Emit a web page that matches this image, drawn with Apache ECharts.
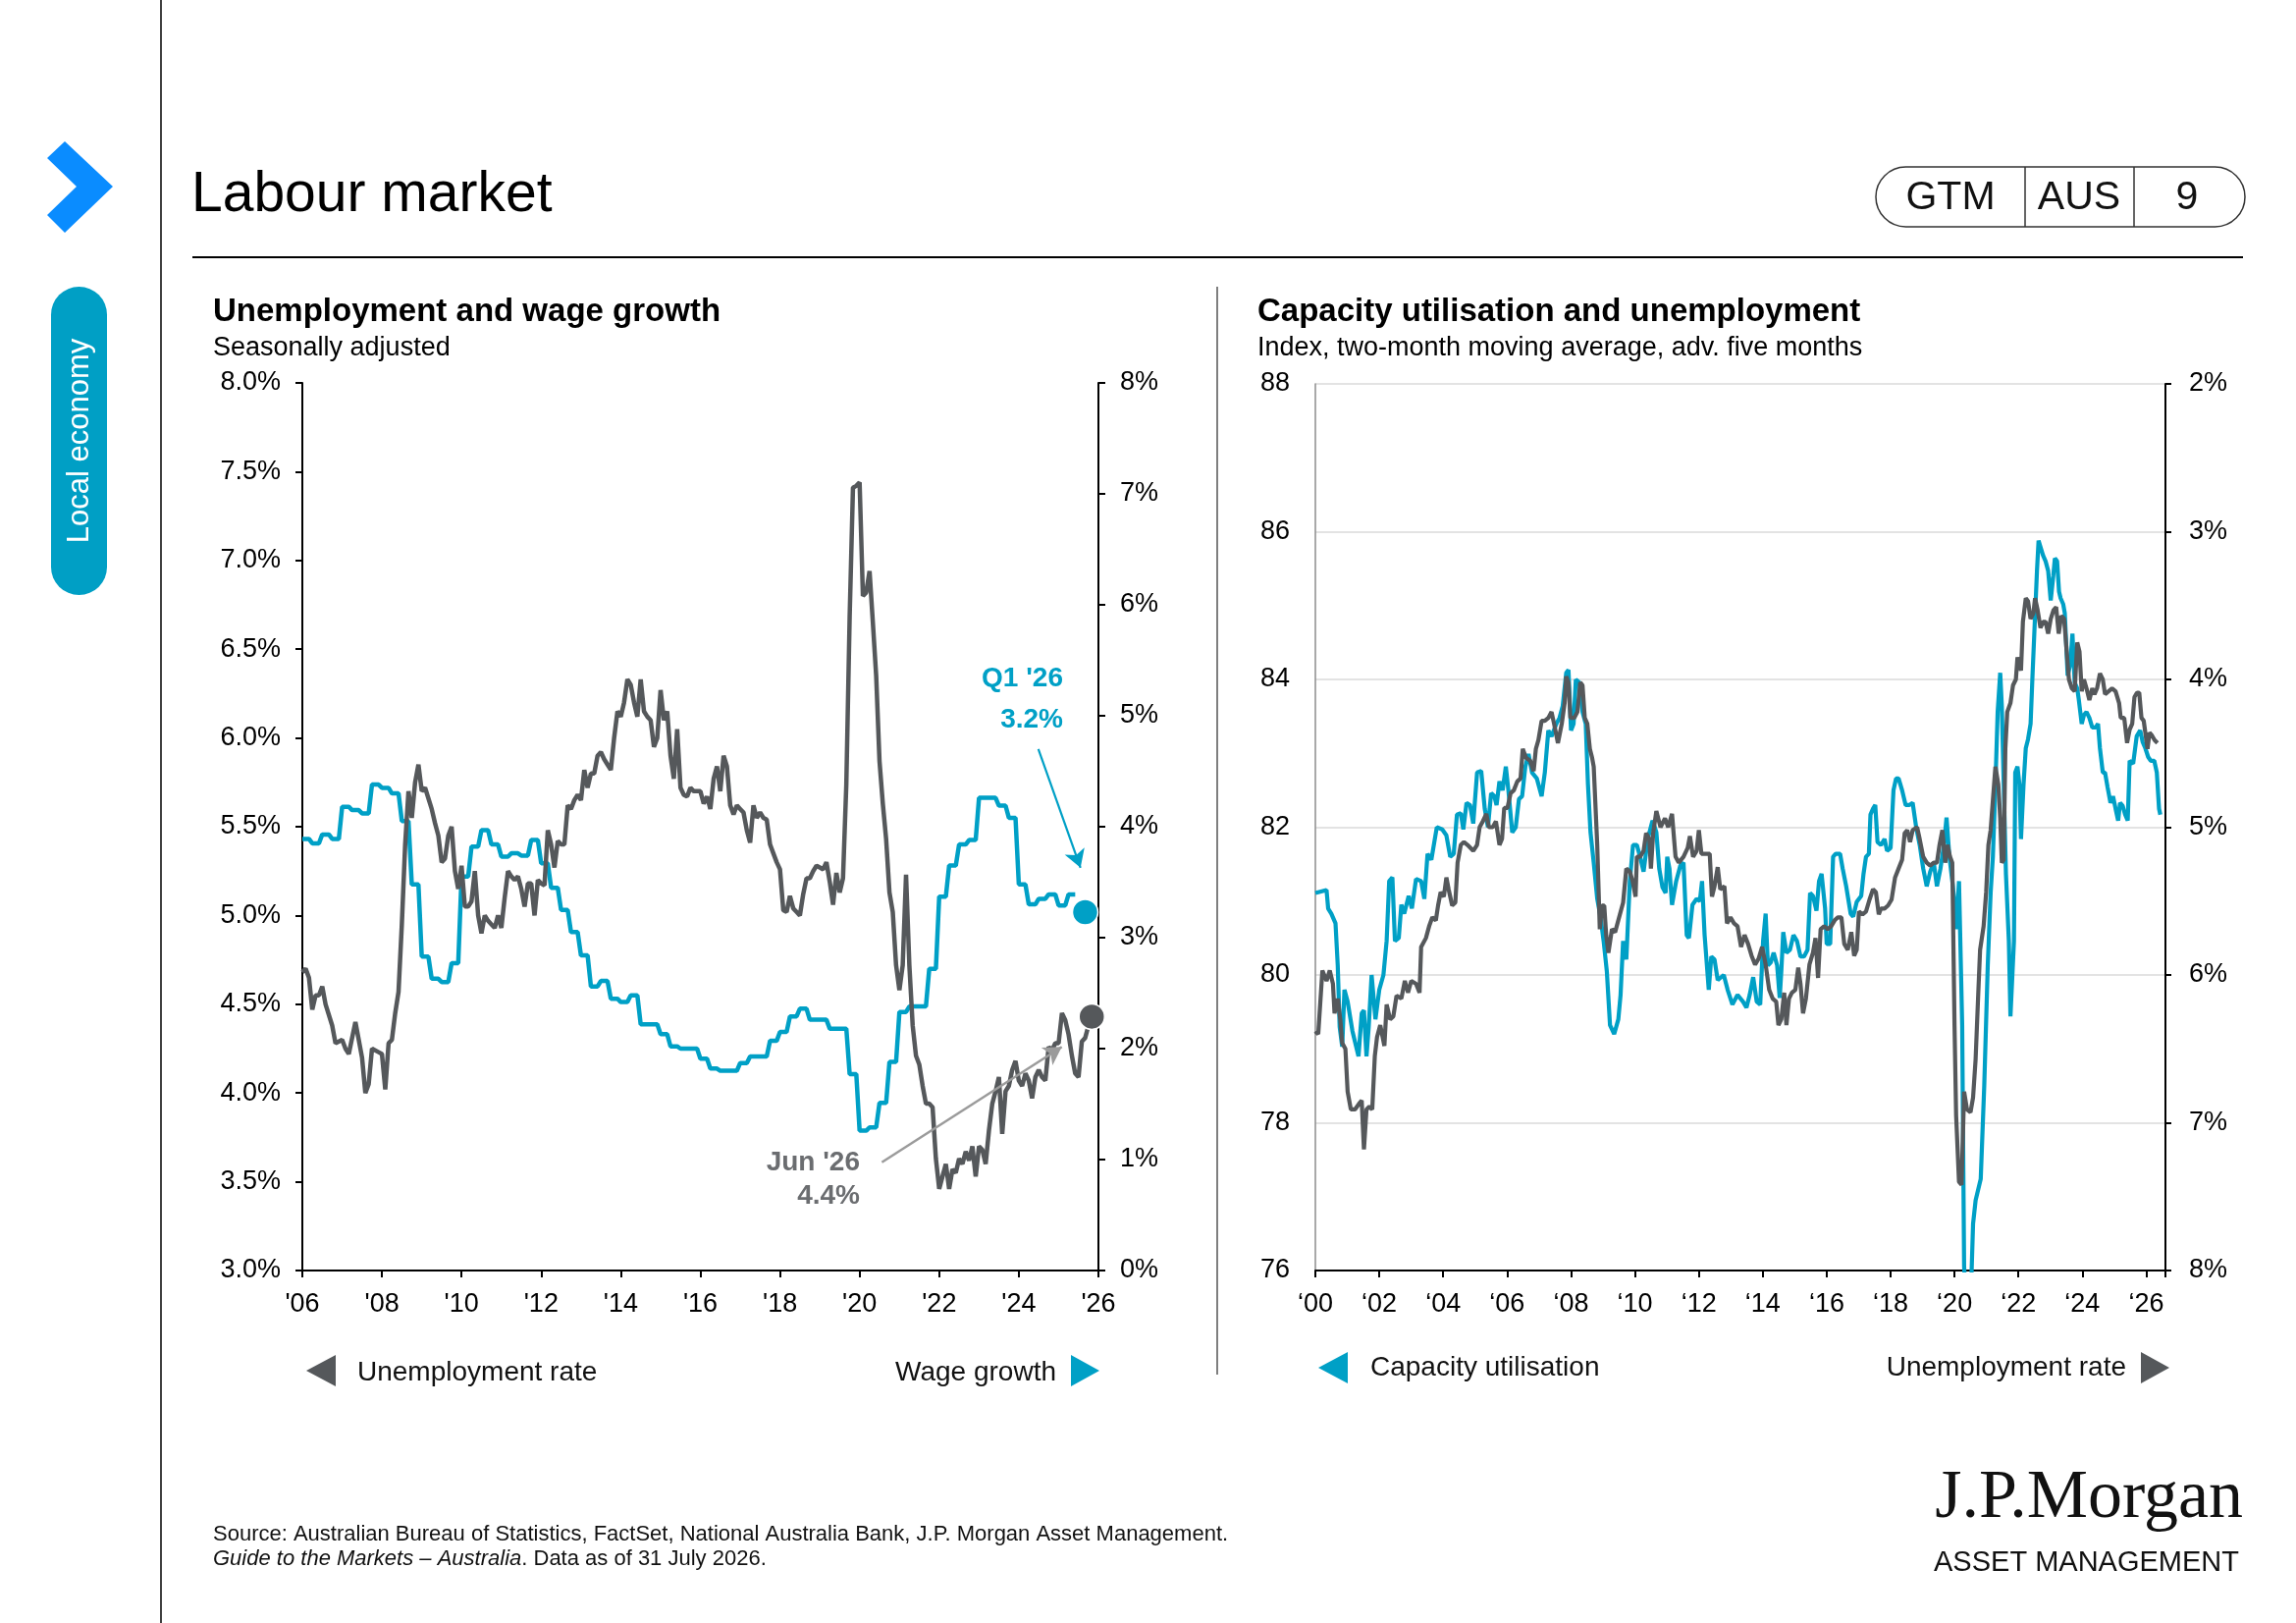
<!DOCTYPE html>
<html><head><meta charset="utf-8">
<script src="https://cdn.jsdelivr.net/npm/echarts@6/dist/echarts.min.js"></script>
<style>html,body{margin:0;padding:0;background:#fff;}#main{width:2339px;height:1653px;}</style>
</head><body><div id="main"></div>
<script>
// ---------- DATA ----------
// Left chart: unemployment rate (%), monthly ['YYYY-MM', value]
const unempRate = [
['2006-01',4.68],['2006-02',4.70],['2006-03',4.65],['2006-04',4.47],['2006-05',4.55],['2006-06',4.55],['2006-07',4.60],['2006-08',4.50],['2006-10',4.38],['2006-11',4.28],
['2007-01',4.30],['2007-02',4.25],['2007-03',4.22],['2007-05',4.40],['2007-06',4.30],['2007-07',4.20],['2007-08',4.00],['2007-09',4.05],['2007-10',4.25],['2007-12',4.23],
['2008-01',4.22],['2008-02',4.02],['2008-03',4.28],['2008-04',4.30],['2008-05',4.45],['2008-06',4.57],['2008-07',4.95],['2008-08',5.40],['2008-09',5.70],['2008-10',5.55],['2008-11',5.75],['2008-12',5.85],
['2009-01',5.70],['2009-02',5.72],['2009-04',5.60],['2009-05',5.52],['2009-06',5.45],['2009-07',5.30],['2009-08',5.32],['2009-09',5.45],['2009-10',5.50],['2009-11',5.25],['2009-12',5.15],
['2010-01',5.28],['2010-02',5.05],['2010-03',5.05],['2010-04',5.08],['2010-05',5.25],['2010-06',5.00],['2010-07',4.90],['2010-08',5.00],['2010-09',4.97],['2010-10',4.95],['2010-11',4.93],['2010-12',5.00],
['2011-01',4.93],['2011-02',5.10],['2011-03',5.25],['2011-04',5.22],['2011-05',5.20],['2011-06',5.22],['2011-07',5.15],['2011-08',5.05],['2011-09',5.18],['2011-10',5.18],['2011-11',5.00],['2011-12',5.20],
['2012-01',5.18],['2012-02',5.17],['2012-03',5.48],['2012-04',5.40],['2012-05',5.27],['2012-06',5.42],['2012-07',5.40],['2012-08',5.40],['2012-09',5.62],['2012-10',5.60],['2012-11',5.65],['2012-12',5.68],
['2013-01',5.65],['2013-02',5.82],['2013-03',5.72],['2013-04',5.80],['2013-05',5.80],['2013-06',5.90],['2013-07',5.92],['2013-08',5.88],['2013-09',5.85],['2013-10',5.82],['2013-11',6.00],['2013-12',6.15],
['2014-01',6.12],['2014-02',6.20],['2014-03',6.33],['2014-04',6.30],['2014-05',6.20],['2014-06',6.12],['2014-07',6.33],['2014-08',6.15],['2014-09',6.12],['2014-10',6.10],['2014-11',5.95],['2014-12',6.00],
['2015-01',6.27],['2015-02',6.10],['2015-03',6.15],['2015-04',5.90],['2015-05',5.77],['2015-06',6.05],['2015-07',5.72],['2015-08',5.68],['2015-09',5.67],['2015-10',5.72],['2015-11',5.70],['2015-12',5.70],
['2016-01',5.70],['2016-02',5.63],['2016-03',5.67],['2016-04',5.60],['2016-05',5.77],['2016-06',5.84],['2016-07',5.70],['2016-08',5.90],['2016-09',5.84],['2016-10',5.62],['2016-11',5.57],['2016-12',5.62],
['2017-01',5.60],['2017-02',5.58],['2017-03',5.48],['2017-04',5.41],['2017-05',5.62],['2017-06',5.55],['2017-07',5.58],['2017-08',5.55],['2017-09',5.54],['2017-10',5.40],['2017-11',5.35],['2017-12',5.30],
['2018-01',5.26],['2018-02',5.03],['2018-03',5.02],['2018-04',5.11],['2018-05',5.04],['2018-06',5.02],['2018-07',5.00],['2018-08',5.12],['2018-09',5.21],['2018-10',5.21],['2018-11',5.25],['2018-12',5.28],
['2019-01',5.27],['2019-02',5.26],['2019-03',5.30],['2019-04',5.19],['2019-05',5.06],['2019-06',5.24],['2019-07',5.13],['2019-08',5.21],['2019-09',5.74],['2019-10',6.68],['2019-11',7.41],['2019-12',7.42],
['2020-01',7.44],['2020-02',6.80],['2020-03',6.82],['2020-04',6.94],['2020-05',6.65],['2020-06',6.35],['2020-07',5.87],['2020-08',5.63],['2020-09',5.43],['2020-10',5.13],['2020-11',5.02],['2020-12',4.72],
['2021-01',4.58],['2021-02',4.72],['2021-03',5.23],['2021-04',4.72],['2021-05',4.38],['2021-06',4.21],['2021-07',4.16],['2021-08',4.04],['2021-09',3.94],['2021-10',3.94],['2021-11',3.92],['2021-12',3.63],
['2022-01',3.46],['2022-02',3.53],['2022-03',3.60],['2022-04',3.46],['2022-05',3.57],['2022-06',3.55],['2022-07',3.63],['2022-08',3.60],['2022-09',3.67],['2022-10',3.62],['2022-11',3.70],['2022-12',3.53],
['2023-01',3.70],['2023-02',3.68],['2023-03',3.60],['2023-04',3.79],['2023-05',3.94],['2023-06',4.01],['2023-07',4.09],['2023-08',3.77],['2023-09',4.01],['2023-10',4.04],['2023-11',4.13],['2023-12',4.18],
['2024-01',4.07],['2024-02',4.04],['2024-03',4.11],['2024-04',4.07],['2024-05',3.97],['2024-06',4.09],['2024-07',4.13],['2024-08',4.09],['2024-09',4.07],['2024-10',4.26],['2024-11',4.24],['2024-12',4.28],
['2025-01',4.28],['2025-02',4.45],['2025-03',4.41],['2025-04',4.33],['2025-05',4.21],['2025-06',4.11],['2025-07',4.09],['2025-08',4.29],['2025-09',4.31],['2025-10',4.38]
];
// Left chart: wage growth (% y/y), quarterly from 2006 Q1
const wageFirstYear = 2006;
const wageGrowthQ = [
3.89,3.85,3.93,3.89, 4.18,4.15,4.12,4.38, 4.35,4.30,4.05,3.48, 2.83,2.63,2.60,2.77,
3.55,3.82,3.97,3.84, 3.73,3.76,3.74,3.88, 3.67,3.45,3.25,3.05, 2.84,2.56,2.61,2.45,
2.42,2.48,2.22,2.22, 2.13,2.02,2.00,2.00, 1.91,1.82,1.80,1.80, 1.87,1.93,1.93,2.07,
2.15,2.29,2.36,2.26, 2.26,2.18,2.18,1.77, 1.26,1.29,1.51,1.88, 2.33,2.38,2.38,2.72,
3.37,3.65,3.84,3.88, 4.26,4.26,4.19,4.08, 3.48,3.30,3.35,3.39, 3.29,3.39
];
// Latest-value call-outs
const latestWage = {date:'2025-09', value:3.23, label:["Q1 '26","3.2%"]};
const latestUnemp = {date:'2025-11', value:4.43, label:["Jun '26","4.4%"]};

// Right chart: capacity utilisation index [decimal year, index]
const capUtil = [
[2000.00,81.11],[2000.35,81.15],[2000.40,80.90],[2000.50,80.83],[2000.63,80.70],[2000.70,80.13],[2000.76,79.30],[2000.84,79.03],[2000.91,79.80],[2001.01,79.64],[2001.16,79.24],[2001.35,78.90],[2001.45,79.48],[2001.52,79.52],[2001.60,78.90],[2001.67,79.30],[2001.76,80.00],[2001.88,79.40],
[2002.00,79.80],[2002.13,80.00],[2002.23,80.46],[2002.31,81.27],[2002.41,81.32],[2002.49,80.46],[2002.61,80.50],[2002.69,80.95],[2002.78,80.83],[2002.92,81.07],[2003.02,80.90],[2003.15,81.30],[2003.31,81.27],[2003.41,81.03],[2003.51,81.64],[2003.63,81.56],[2003.80,82.00],[2003.97,81.97],
[2004.10,81.89],[2004.22,81.60],[2004.33,81.64],[2004.43,82.17],[2004.55,82.19],[2004.63,81.97],[2004.73,82.33],[2004.84,82.30],[2004.94,82.05],[2005.06,82.74],[2005.19,82.76],[2005.30,82.25],[2005.40,82.00],[2005.50,82.46],[2005.60,82.42],[2005.67,82.30],[2005.76,82.62],[2005.86,82.50],[2005.96,82.82],
[2006.04,82.50],[2006.16,81.93],[2006.27,82.00],[2006.37,82.38],[2006.47,82.42],[2006.57,82.82],[2006.67,82.99],[2006.78,82.74],[2006.93,82.66],[2007.08,82.42],[2007.18,82.74],[2007.29,83.31],[2007.39,83.23],[2007.54,83.40],[2007.64,83.48],[2007.74,83.64],[2007.85,84.09],[2007.92,84.13],
[2008.00,83.31],[2008.08,83.40],[2008.15,84.00],[2008.26,83.96],[2008.36,83.56],[2008.46,83.40],[2008.53,82.58],[2008.61,81.93],[2008.71,81.52],[2008.82,81.03],[2008.92,80.79],[2009.02,80.46],[2009.12,80.05],[2009.22,79.32],[2009.35,79.20],[2009.48,79.40],[2009.55,79.73],[2009.63,80.46],[2009.73,80.21],[2009.84,81.27],[2009.94,81.76],
[2010.06,81.76],[2010.16,81.60],[2010.27,81.40],[2010.40,81.84],[2010.55,82.09],[2010.67,81.93],[2010.76,81.44],[2010.86,81.19],[2010.96,81.11],[2011.01,81.60],[2011.08,81.44],[2011.16,80.95],[2011.29,81.27],[2011.42,81.48],[2011.52,81.52],[2011.62,80.54],[2011.69,80.50],[2011.80,80.95],[2011.93,81.03],
[2012.03,81.00],[2012.10,81.27],[2012.18,80.54],[2012.31,79.80],[2012.39,80.25],[2012.49,80.21],[2012.59,79.93],[2012.78,80.00],[2012.90,79.80],[2013.05,79.60],[2013.21,79.73],[2013.38,79.64],[2013.49,79.56],[2013.59,79.73],[2013.70,79.97],[2013.81,79.64],[2013.92,79.60],
[2014.01,80.46],[2014.09,80.83],[2014.16,80.13],[2014.25,80.17],[2014.34,80.30],[2014.45,80.13],[2014.53,79.69],[2014.58,80.05],[2014.64,80.58],[2014.74,80.30],[2014.85,80.34],[2014.96,80.54],[2015.07,80.46],[2015.18,80.25],[2015.29,80.25],[2015.40,80.34],[2015.48,81.11],[2015.57,81.07],[2015.68,80.87],[2015.76,81.27],[2015.84,81.37],[2015.95,80.90],
[2016.00,80.42],[2016.11,80.42],[2016.20,81.60],[2016.28,81.64],[2016.42,81.64],[2016.50,81.44],[2016.61,81.20],[2016.75,80.83],[2016.83,80.79],[2016.94,80.99],[2017.08,81.07],[2017.15,81.36],[2017.23,81.60],[2017.32,81.64],[2017.37,82.17],[2017.45,82.25],[2017.52,82.30],[2017.59,81.80],[2017.70,81.76],[2017.81,81.84],[2017.89,81.68],
[2018.00,81.72],[2018.09,82.50],[2018.17,82.66],[2018.25,82.66],[2018.36,82.50],[2018.47,82.30],[2018.58,82.30],[2018.69,82.33],[2018.80,82.00],[2018.91,81.76],[2019.02,81.44],[2019.13,81.20],[2019.24,81.40],[2019.35,81.52],[2019.45,81.20],[2019.56,81.44],[2019.67,81.76],[2019.75,82.13],[2019.84,81.60],[2019.95,81.20],
[2020.00,80.95],[2020.05,80.62],[2020.14,81.27],[2020.19,81.27],[2020.24,79.32],[2020.30,76.06],[2020.36,75.50],[2020.50,75.50],[2020.58,76.63],[2020.66,76.95],[2020.82,77.24],[2020.93,78.50],[2021.04,80.13],[2021.13,81.11],[2021.20,81.60],[2021.28,82.58],[2021.35,83.56],[2021.43,84.09],[2021.48,83.64],[2021.54,82.58],[2021.61,81.36],[2021.70,80.46],[2021.75,79.44],[2021.81,79.44],[2021.86,80.46],[2021.90,82.74],[2021.97,82.82],
[2022.03,82.58],[2022.08,81.84],[2022.16,82.58],[2022.23,83.07],[2022.30,83.19],[2022.38,83.40],[2022.44,84.05],[2022.52,84.86],[2022.58,85.47],[2022.63,85.88],[2022.69,85.90],[2022.77,85.68],[2022.85,85.60],[2022.93,85.47],[2023.01,85.07],[2023.09,85.40],[2023.14,85.64],[2023.21,85.60],[2023.27,85.19],[2023.32,85.10],[2023.40,85.02],[2023.45,84.90],[2023.54,84.05],[2023.62,84.20],[2023.69,84.62],[2023.76,83.96],[2023.84,83.88],[2023.89,83.72],[2023.98,83.40],
[2024.05,83.52],[2024.13,83.56],[2024.22,83.48],[2024.31,83.35],[2024.42,83.35],[2024.49,83.40],[2024.55,83.07],[2024.64,82.74],[2024.71,82.74],[2024.79,82.54],[2024.88,82.33],[2024.96,82.42],[2025.04,82.25],[2025.12,82.09],[2025.18,82.33],[2025.26,82.29],[2025.34,82.17],[2025.42,82.09],[2025.48,82.90],[2025.59,82.86],[2025.70,83.23],[2025.81,83.31],[2025.89,83.15],[2025.97,83.07],
[2026.06,82.95],[2026.14,82.90],[2026.25,82.90],[2026.33,82.74],[2026.40,82.25],[2026.44,82.17]
];
// Right chart: unemployment rate (%), advanced five months [decimal year, %]
const unempAdv = [
[2000.00,6.38],[2000.09,6.40],[2000.22,5.97],[2000.35,6.04],[2000.45,5.97],[2000.55,6.06],[2000.60,6.26],[2000.70,6.16],[2000.78,6.30],[2000.84,6.46],[2000.94,6.50],[2001.01,6.79],[2001.11,6.91],[2001.24,6.91],[2001.37,6.87],[2001.45,6.85],[2001.52,7.18],[2001.60,6.91],[2001.69,6.89],[2001.78,6.91],[2001.86,6.55],[2001.93,6.42],
[2002.03,6.34],[2002.16,6.48],[2002.23,6.20],[2002.34,6.30],[2002.44,6.28],[2002.54,6.14],[2002.69,6.16],[2002.80,6.04],[2002.90,6.12],[2003.00,6.04],[2003.15,6.06],[2003.26,6.12],[2003.31,5.81],[2003.46,5.75],[2003.56,5.67],[2003.66,5.61],[2003.77,5.63],[2003.84,5.53],[2003.92,5.44],
[2004.02,5.47],[2004.10,5.34],[2004.17,5.42],[2004.28,5.53],[2004.38,5.51],[2004.45,5.24],[2004.55,5.12],[2004.65,5.10],[2004.76,5.12],[2004.94,5.16],[2005.06,5.12],[2005.14,5.00],[2005.24,4.96],[2005.35,4.91],[2005.43,5.00],[2005.55,5.00],[2005.65,4.96],[2005.76,5.12],[2005.84,5.08],[2005.91,4.87],
[2006.01,4.87],[2006.11,4.77],[2006.21,4.75],[2006.32,4.69],[2006.42,4.67],[2006.49,4.47],[2006.59,4.53],[2006.72,4.55],[2006.83,4.62],[2006.90,4.47],[2006.98,4.41],[2007.08,4.28],[2007.18,4.28],[2007.29,4.26],[2007.39,4.22],[2007.47,4.30],[2007.59,4.43],[2007.71,4.30],[2007.80,4.16],[2007.85,3.98],[2007.92,4.02],[2007.98,4.26],
[2008.10,4.26],[2008.20,4.22],[2008.29,4.02],[2008.36,4.04],[2008.43,4.26],[2008.51,4.30],[2008.59,4.47],[2008.66,4.53],[2008.71,4.59],[2008.82,5.12],[2008.90,5.69],[2008.97,5.53],[2009.04,5.53],[2009.10,5.73],[2009.17,5.85],[2009.28,5.69],[2009.38,5.71],[2009.48,5.63],[2009.63,5.51],[2009.73,5.28],[2009.84,5.30],[2009.92,5.36],
[2010.02,5.47],[2010.06,5.20],[2010.16,5.20],[2010.27,5.16],[2010.35,5.04],[2010.45,5.08],[2010.50,5.28],[2010.57,5.04],[2010.67,4.89],[2010.80,5.00],[2010.94,4.94],[2011.04,5.00],[2011.16,4.91],[2011.27,5.20],[2011.37,5.24],[2011.52,5.20],[2011.65,5.14],[2011.72,5.06],[2011.82,5.20],[2011.93,5.16],
[2012.00,5.02],[2012.08,5.18],[2012.23,5.18],[2012.34,5.18],[2012.41,5.47],[2012.49,5.40],[2012.59,5.27],[2012.67,5.42],[2012.80,5.40],[2012.88,5.65],[2012.99,5.61],[2013.10,5.65],[2013.21,5.67],[2013.32,5.81],[2013.43,5.73],[2013.54,5.79],[2013.65,5.87],[2013.76,5.93],[2013.87,5.89],[2013.98,5.81],
[2014.09,5.93],[2014.20,6.10],[2014.31,6.16],[2014.42,6.18],[2014.49,6.34],[2014.58,6.30],[2014.67,6.12],[2014.74,6.34],[2014.82,6.16],[2014.91,6.12],[2015.02,6.10],[2015.11,5.95],[2015.18,6.06],[2015.26,6.26],[2015.35,6.16],[2015.46,5.93],[2015.57,5.85],[2015.65,5.75],[2015.73,6.02],[2015.81,5.69],[2015.92,5.67],
[2016.03,5.69],[2016.14,5.67],[2016.25,5.63],[2016.35,5.61],[2016.46,5.61],[2016.55,5.79],[2016.66,5.83],[2016.77,5.71],[2016.86,5.87],[2016.94,5.83],[2017.01,5.57],[2017.12,5.59],[2017.23,5.57],[2017.34,5.49],[2017.45,5.42],[2017.54,5.44],[2017.63,5.59],[2017.70,5.55],[2017.81,5.55],[2017.92,5.53],
[2018.03,5.49],[2018.14,5.34],[2018.25,5.28],[2018.36,5.22],[2018.44,5.04],[2018.52,5.02],[2018.61,5.10],[2018.69,5.02],[2018.83,5.00],[2018.91,5.08],[2019.02,5.20],[2019.13,5.24],[2019.24,5.26],[2019.35,5.24],[2019.45,5.24],[2019.53,5.12],[2019.62,5.02],[2019.71,5.24],[2019.78,5.12],[2019.86,5.20],[2019.93,5.24],
[2020.00,6.34],[2020.05,6.95],[2020.14,7.40],[2020.22,7.42],[2020.30,6.79],[2020.39,6.91],[2020.50,6.93],[2020.58,6.83],[2020.66,6.57],[2020.74,6.14],[2020.80,5.83],[2020.91,5.67],[2020.99,5.44],[2021.06,5.12],[2021.13,5.02],[2021.21,4.79],[2021.28,4.59],[2021.37,4.71],[2021.43,4.94],[2021.48,5.24],[2021.54,5.22],[2021.59,4.47],[2021.65,4.22],[2021.75,4.16],[2021.83,4.04],[2021.92,4.00],[2021.97,3.85],
[2022.08,3.94],[2022.14,3.61],[2022.23,3.45],[2022.30,3.47],[2022.38,3.59],[2022.47,3.55],[2022.52,3.45],[2022.60,3.53],[2022.69,3.65],[2022.77,3.61],[2022.85,3.61],[2022.93,3.69],[2023.01,3.59],[2023.10,3.53],[2023.18,3.51],[2023.26,3.69],[2023.34,3.57],[2023.43,3.59],[2023.51,3.81],[2023.58,4.00],[2023.67,4.06],[2023.76,4.08],[2023.84,3.75],[2023.91,3.81],[2023.98,4.08],
[2024.05,4.00],[2024.13,4.06],[2024.22,4.14],[2024.31,4.06],[2024.38,4.10],[2024.46,4.06],[2024.55,3.96],[2024.64,4.00],[2024.71,4.10],[2024.82,4.08],[2024.93,4.06],[2025.04,4.08],[2025.15,4.16],[2025.20,4.26],[2025.31,4.26],[2025.40,4.43],[2025.48,4.34],[2025.56,4.30],[2025.63,4.12],[2025.71,4.09],[2025.78,4.09],[2025.85,4.26],[2025.92,4.28],
[2026.04,4.47],[2026.10,4.36],[2026.18,4.38],[2026.26,4.41],[2026.35,4.43]
];

// Tick labels
const leftYearTicks = ["'06","'08","'10","'12","'14","'16","'18","'20","'22","'24","'26"];
const rightYearTicks = ["\u201800","\u201802","\u201804","\u201806","\u201808","\u201810","\u201812","\u201814","\u201816","\u201818","\u201820","\u201822","\u201824","\u201826"];

// ---------- BUILD ----------
const FONT = '"Liberation Sans", Arial, Helvetica, sans-serif';
const BLUE = '#00a0c6', GRAY = '#55585b';
const toYear = s => { const p = s.split('-').map(Number); return p[0] + (p[1]-1)/12; };

const unempData = unempRate.map(d => [toYear(d[0]), d[1]]);
const wageData = [];
wageGrowthQ.forEach((v,i) => { for (let k=0;k<3;k++) wageData.push([wageFirstYear + i/4 + k/12, v]); });

const chart = echarts.init(document.getElementById('main'), null, {width:2339, height:1653});

const axisTxt = {fontFamily:FONT, fontSize:27, color:'#000'};
const blackLine = {lineStyle:{color:'#000', width:2}, onZero:false};
const tick = len => ({show:true, length:len, lineStyle:{color:'#000', width:2}});

const yearLabel = (ticks, first) => v => {
  const r = Math.round(v);
  if (Math.abs(v - r) > 1e-6 || (r - first) % 2) return '';
  return ticks[(r - first)/2] || '';
};

const txt = (x, y, text, size, opts={}) => ({
  type:'text', x, y, silent:true,
  style:Object.assign({text, fill:'#000', fontFamily:FONT, fontSize:size, align:'left', verticalAlign:'middle'}, opts)
});

const graphics = [
  {type:'line', shape:{x1:164,y1:0,x2:164,y2:1653}, style:{stroke:'#000', lineWidth:1.5}},
  {type:'polygon', shape:{points:[[66,144],[115,190],[66,237],[48,219],[78,190],[48,161]]}, style:{fill:'#0a8cff'}},
  {type:'rect', shape:{x:52,y:292,width:57,height:314,r:28.5}, style:{fill:'#009fc5'}},
  {type:'text', x:81, y:449, rotation:Math.PI/2, style:{text:'Local economy', fill:'#fff', fontFamily:FONT, fontSize:31, align:'center', verticalAlign:'middle'}},
  txt(195, 199, 'Labour market', 57),
  {type:'line', shape:{x1:196,y1:262,x2:2285,y2:262}, style:{stroke:'#000', lineWidth:2}},
  {type:'rect', shape:{x:1911,y:170,width:376,height:61,r:30.5}, style:{fill:'none', stroke:'#333', lineWidth:1.5}},
  {type:'line', shape:{x1:2063,y1:170,x2:2063,y2:231}, style:{stroke:'#333', lineWidth:1.5}},
  {type:'line', shape:{x1:2174,y1:170,x2:2174,y2:231}, style:{stroke:'#333', lineWidth:1.5}},
  txt(1987, 202, 'GTM', 41, {align:'center', fill:'#111'}),
  txt(2118, 202, 'AUS', 41, {align:'center', fill:'#111'}),
  txt(2228, 202, '9', 41, {align:'center', fill:'#111'}),
  txt(217, 318, 'Unemployment and wage growth', 33, {fontWeight:'bold'}),
  txt(217, 355, 'Seasonally adjusted', 27),
  txt(1281, 318, 'Capacity utilisation and unemployment', 33, {fontWeight:'bold'}),
  txt(1281, 355, 'Index, two-month moving average, adv. five months', 27),
  {type:'line', shape:{x1:1240,y1:292,x2:1240,y2:1400}, style:{stroke:'#555', lineWidth:1.5}},
  // legends
  {type:'polygon', shape:{points:[[312,1396],[342,1380],[342,1412]]}, style:{fill:GRAY}},
  txt(364, 1398, 'Unemployment rate', 28, {fill:'#111'}),
  txt(1076, 1398, 'Wage growth', 28, {align:'right', fill:'#111'}),
  {type:'polygon', shape:{points:[[1091,1380],[1120,1396],[1091,1412]]}, style:{fill:BLUE}},
  {type:'polygon', shape:{points:[[1343,1393],[1373,1377],[1373,1409]]}, style:{fill:BLUE}},
  txt(1396, 1393, 'Capacity utilisation', 28, {fill:'#111'}),
  txt(2166, 1393, 'Unemployment rate', 28, {align:'right', fill:'#111'}),
  {type:'polygon', shape:{points:[[2181,1377],[2210,1393],[2181,1409]]}, style:{fill:GRAY}},
  // call-out labels
  txt(1083, 691, latestWage.label[0], 28, {align:'right', fill:BLUE, fontWeight:'bold'}),
  txt(1083, 733, latestWage.label[1], 28, {align:'right', fill:BLUE, fontWeight:'bold'}),
  txt(876, 1184, latestUnemp.label[0], 28, {align:'right', fill:'#6b6d70', fontWeight:'bold'}),
  txt(876, 1218, latestUnemp.label[1], 28, {align:'right', fill:'#6b6d70', fontWeight:'bold'}),
  // footer
  txt(217, 1563, 'Source: Australian Bureau of Statistics, FactSet, National Australia Bank, J.P. Morgan Asset Management.', 22, {fill:'#111'}),
  {type:'text', x:217, y:1588, silent:true, style:{
    text:'{i|Guide to the Markets \u2013 Australia}{n|. Data as of 31 July 2026.}',
    fontFamily:FONT, fontSize:22, fill:'#111', verticalAlign:'middle',
    rich:{i:{fontStyle:'italic', fontFamily:FONT, fontSize:22, fill:'#111'}, n:{fontFamily:FONT, fontSize:22, fill:'#111'}}}},
  txt(2285, 1527, 'J.P.Morgan', 70, {align:'right', fontFamily:'"Liberation Serif", "DejaVu Serif", serif', fill:'#111'}),
  txt(2281, 1592, 'ASSET MANAGEMENT', 29, {align:'right', fill:'#111'})
];

const option = {
  animation:false,
  backgroundColor:'#fff',
  textStyle:{fontFamily:FONT},
  grid:[
    {left:308, top:390, width:811, height:904},
    {left:1340, top:391, width:866, height:903}
  ],
  xAxis:[
    {gridIndex:0, type:'value', min:2006, max:2026, interval:2,
     axisLine:blackLine, axisTick:tick(7), splitLine:{show:false},
     axisLabel:Object.assign({margin:21, formatter:yearLabel(leftYearTicks, 2006)}, axisTxt)},
    {gridIndex:1, type:'value', min:2000, max:2026.6, interval:2,
     axisLine:blackLine, axisTick:tick(7), splitLine:{show:false},
     axisLabel:Object.assign({margin:21, formatter:yearLabel(rightYearTicks, 2000), showMaxLabel:true}, axisTxt)}
  ],
  yAxis:[
    {gridIndex:0, type:'value', min:3, max:8, interval:0.5, position:'left',
     axisLine:Object.assign({show:true}, blackLine), axisTick:tick(7), splitLine:{show:false},
     axisLabel:Object.assign({margin:22, formatter:v => v.toFixed(1)+'%'}, axisTxt)},
    {gridIndex:0, type:'value', min:0, max:8, interval:1, position:'right',
     axisLine:Object.assign({show:true}, blackLine), axisTick:tick(7), splitLine:{show:false},
     axisLabel:Object.assign({margin:22, formatter:v => v+'%'}, axisTxt)},
    {gridIndex:1, type:'value', min:76, max:88, interval:2, position:'left',
     axisLine:{show:true, onZero:false, lineStyle:{color:'#8c8c8c', width:1.5}}, axisTick:{show:false},
     splitLine:{show:true, lineStyle:{color:'#dadada', width:1.5}},
     axisLabel:Object.assign({margin:26}, axisTxt)},
    {gridIndex:1, type:'value', min:2, max:8, interval:1, position:'right', inverse:true,
     axisLine:Object.assign({show:true}, blackLine), axisTick:tick(6), splitLine:{show:false},
     axisLabel:Object.assign({margin:24, formatter:v => v+'%'}, axisTxt)}
  ],
  series:[
    {name:'Wage growth', type:'line', xAxisIndex:0, yAxisIndex:1, data:wageData, showSymbol:false, symbol:'none',
     lineStyle:{color:BLUE, width:4.5}, itemStyle:{color:BLUE}, z:3,
     markLine:{silent:true, symbol:['none','arrow'], symbolSize:[16,18], label:{show:false},
       lineStyle:{color:BLUE, width:2.2, type:'solid'},
       data:[[{coord:[2024.49,4.70]},{coord:[2025.55,3.63]}]]}},
    {name:'Unemployment rate', type:'line', xAxisIndex:0, yAxisIndex:0, data:unempData, showSymbol:false, symbol:'none',
     lineStyle:{color:GRAY, width:4.5}, itemStyle:{color:GRAY}, z:4,
     markLine:{silent:true, symbol:['none','arrow'], symbolSize:[16,18], label:{show:false},
       lineStyle:{color:'#9b9b9b', width:2.5, type:'solid'},
       data:[[{coord:[2020.56,3.61]},{coord:[2025.08,4.26]}]]}},
    {type:'scatter', xAxisIndex:0, yAxisIndex:1, data:[[toYear(latestWage.date), latestWage.value]],
     symbolSize:26, itemStyle:{color:BLUE, borderColor:'#fff', borderWidth:1.5, opacity:1}, z:6},
    {type:'scatter', xAxisIndex:0, yAxisIndex:0, data:[[toYear(latestUnemp.date), latestUnemp.value]],
     symbolSize:26, itemStyle:{color:GRAY, borderColor:'#fff', borderWidth:1.5, opacity:1}, z:6},
    {name:'Capacity utilisation', type:'line', xAxisIndex:1, yAxisIndex:2, data:capUtil, showSymbol:false, symbol:'none',
     clip:true, lineStyle:{color:BLUE, width:4.2}, itemStyle:{color:BLUE}, z:3},
    {name:'Unemployment rate (adv.)', type:'line', xAxisIndex:1, yAxisIndex:3, data:unempAdv, showSymbol:false, symbol:'none',
     clip:true, lineStyle:{color:GRAY, width:4.2}, itemStyle:{color:GRAY}, z:4}
  ],
  graphic:graphics
};
chart.setOption(option);
</script></body></html>
